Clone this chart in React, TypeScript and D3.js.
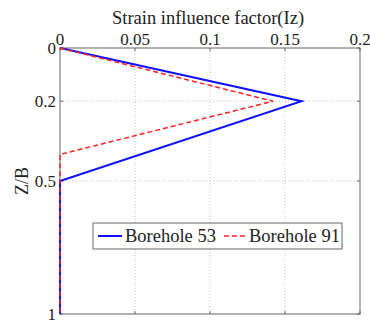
import React, { useEffect, useRef } from 'react';
import * as d3 from 'd3';

// depth ratio Z/B and strain influence factor Iz
const depth53 = [0, 0.2, 0.5, 1];
const iz53 = [0, 0.161, 0, 0];
const depth91 = [0, 0.2, 0.4, 1];
const iz91 = [0, 0.142, 0, 0];
const xTicks = [0, 0.05, 0.1, 0.15, 0.2];
const yTicks = [0, 0.2, 0.5, 1];
const seriesNames = ['Borehole 53', 'Borehole 91'];

export default function App() {
  const ref = useRef<SVGSVGElement>(null);

  useEffect(() => {
    const svg = d3.select(ref.current);
    svg.selectAll('*').remove();
    const margin = { top: 48, right: 10, bottom: 10, left: 60 };
    const width = 370 - margin.left - margin.right;
    const height = 324 - margin.top - margin.bottom;
    const font = "'Liberation Serif', serif";

    const x = d3.scaleLinear().domain([0, 0.2]).range([0, width]);
    const y = d3.scaleLinear().domain([0, 1]).range([0, height]);

    const g = svg.append('g').attr('transform', `translate(${margin.left},${margin.top})`);

    g.append('rect').attr('width', width).attr('height', height).attr('fill', 'white');

    // grid
    g.selectAll('.vgrid').data(xTicks.slice(1, -1)).enter().append('line')
      .attr('x1', d => x(d)).attr('x2', d => x(d)).attr('y1', 0).attr('y2', height)
      .attr('stroke', '#b0b0b0').attr('stroke-width', 0.8).attr('stroke-dasharray', '1,2');
    g.selectAll('.hgrid').data(yTicks.slice(1, -1)).enter().append('line')
      .attr('x1', 0).attr('x2', width).attr('y1', d => y(d)).attr('y2', d => y(d))
      .attr('stroke', '#b0b0b0').attr('stroke-width', 0.8).attr('stroke-dasharray', '1,2');

    // box
    g.append('rect').attr('width', width).attr('height', height)
      .attr('fill', 'none').attr('stroke', '#666').attr('stroke-width', 1);

    // tick marks inward
    xTicks.forEach(t => {
      g.append('line').attr('x1', x(t)).attr('x2', x(t)).attr('y1', 0).attr('y2', 3).attr('stroke', '#666');
      g.append('line').attr('x1', x(t)).attr('x2', x(t)).attr('y1', height).attr('y2', height - 3).attr('stroke', '#666');
    });
    yTicks.forEach(t => {
      g.append('line').attr('x1', 0).attr('x2', 3).attr('y1', y(t)).attr('y2', y(t)).attr('stroke', '#666');
      g.append('line').attr('x1', width).attr('x2', width - 3).attr('y1', y(t)).attr('y2', y(t)).attr('stroke', '#666');
    });

    g.selectAll('.xlab').data(xTicks).enter().append('text')
      .attr('x', d => x(d)).attr('y', -3).attr('text-anchor', 'middle')
      .style('font-family', font).style('font-size', '17px').attr('fill', '#222')
      .text(d => String(d));
    g.selectAll('.ylab').data(yTicks).enter().append('text')
      .attr('x', -4).attr('y', d => y(d) + 6).attr('text-anchor', 'end')
      .style('font-family', font).style('font-size', '17px').attr('fill', '#222')
      .text(d => String(d));

    svg.append('text').attr('x', 208).attr('y', 24)
      .attr('text-anchor', 'middle').style('font-family', font).style('font-size', '18.5px').attr('fill', '#222')
      .text('Strain influence factor(Iz)');
    svg.append('text').attr('transform', `translate(28,${margin.top + y(0.5)}) rotate(-90)`)
      .attr('text-anchor', 'middle').style('font-family', font).style('font-size', '18px').attr('fill', '#222')
      .text('Z/B');

    const line = d3.line<[number, number]>().x(d => x(d[0])).y(d => y(d[1]));
    const d53 = depth53.map((z, i) => [iz53[i], z] as [number, number]);
    const d91 = depth91.map((z, i) => [iz91[i], z] as [number, number]);

    g.append('path').datum(d53).attr('d', line).attr('fill', 'none')
      .attr('stroke', '#1010ff').attr('stroke-width', 2);
    g.append('path').datum(d91).attr('d', line).attr('fill', 'none')
      .attr('stroke', '#ff2020').attr('stroke-width', 1.5).attr('stroke-dasharray', '5,3');

    // legend
    const lg = svg.append('g').attr('transform', 'translate(93,223)');
    lg.append('rect').attr('width', 249).attr('height', 26).attr('fill', 'white')
      .attr('stroke', '#666').attr('stroke-width', 1);
    lg.append('line').attr('x1', 5).attr('x2', 29).attr('y1', 13).attr('y2', 13)
      .attr('stroke', '#1010ff').attr('stroke-width', 2);
    lg.append('text').attr('x', 32).attr('y', 19).style('font-family', font).style('font-size', '18.5px')
      .attr('fill', '#222').text(seriesNames[0]);
    lg.append('line').attr('x1', 131).attr('x2', 153).attr('y1', 13).attr('y2', 13)
      .attr('stroke', '#ff2020').attr('stroke-width', 1.5).attr('stroke-dasharray', '5,3');
    lg.append('text').attr('x', 156).attr('y', 19).style('font-family', font).style('font-size', '18.5px')
      .attr('fill', '#222').text(seriesNames[1]);
  }, []);

  return (
    <svg ref={ref} width={370} height={324}
      style={{ position: 'absolute', left: 0, top: 0, background: 'white' }} />
  );
}
